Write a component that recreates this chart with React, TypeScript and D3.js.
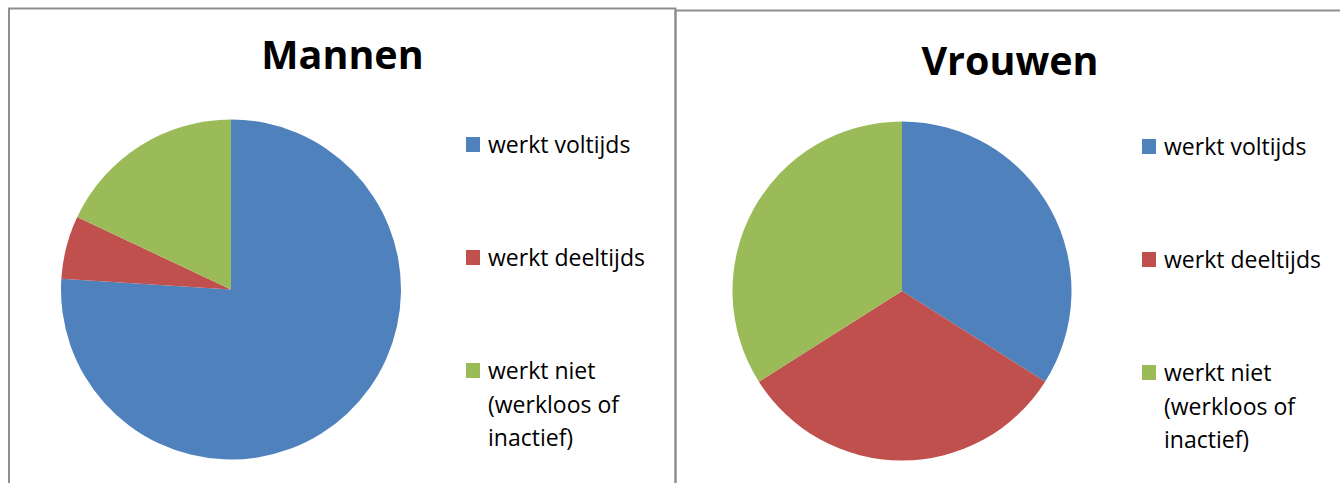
import React from "react";
import * as d3 from "d3";

const categories = ["werkt voltijds", "werkt deeltijds", "werkt niet (werkloos of inactief)"];
const legendLines = [["werkt voltijds"], ["werkt deeltijds"], ["werkt niet", "(werkloos of", "inactief)"]];
const mannenValues = [76, 6, 18];
const vrouwenValues = [34, 32, 34];
const colors = ["#4F81BD", "#C0504D", "#9BBB59"];

const FONT = "'Open Sans', sans-serif";

type PanelProps = {
  title: string;
  values: number[];
  cx: number;
  cy: number;
  r: number;
  titleX: number;
  titleY: number;
  legendX: number;
  legendY: number;
};

function PiePanel({ title, values, cx, cy, r, titleX, titleY, legendX, legendY }: PanelProps) {
  const pie = d3.pie<number>().sort(null).value((d) => d);
  const arc = d3.arc<d3.PieArcDatum<number>>().innerRadius(0).outerRadius(r);
  const arcs = pie(values);
  const legendStep = 113;
  return (
    <g>
      <text x={titleX} y={titleY} textAnchor="middle" fontFamily={FONT} fontWeight="bold" fontSize={39.5} fill="#000">
        {title}
      </text>
      <g transform={`translate(${cx},${cy})`}>
        {arcs.map((a, i) => (
          <path key={i} d={arc(a) || ""} fill={colors[i]} />
        ))}
      </g>
      {categories.map((c, i) => (
        <g key={c} transform={`translate(${legendX},${legendY + i * legendStep})`}>
          <rect x={0} y={0} width={14} height={15} fill={colors[i]} />
          <text x={22} y={16} fontFamily={FONT} fontSize={23} fill="#000">
            {legendLines[i].map((l, j) => (
              <tspan key={j} x={22} dy={j === 0 ? 0 : 33.5}>
                {l}
              </tspan>
            ))}
          </text>
        </g>
      ))}
    </g>
  );
}

export default function App() {
  return (
    <svg
      width={1340}
      height={483}
      style={{ position: "absolute", left: 0, top: 0, background: "#fff" }}
    >
      <rect x={0} y={0} width={1340} height={483} fill="#fff" />
      <rect x={9} y={8.5} width={666.5} height={500} fill="none" stroke="#8f8f8f" strokeWidth={2} />
      <rect x={675.5} y={10.5} width={700} height={500} fill="none" stroke="#8f8f8f" strokeWidth={2} />
      <PiePanel
        title="Mannen"
        values={mannenValues}
        cx={231}
        cy={289.5}
        r={170}
        titleX={342.5}
        titleY={69}
        legendX={466}
        legendY={137}
      />
      <PiePanel
        title="Vrouwen"
        values={vrouwenValues}
        cx={902}
        cy={291}
        r={169.5}
        titleX={1010}
        titleY={75}
        legendX={1142}
        legendY={139}
      />
    </svg>
  );
}
